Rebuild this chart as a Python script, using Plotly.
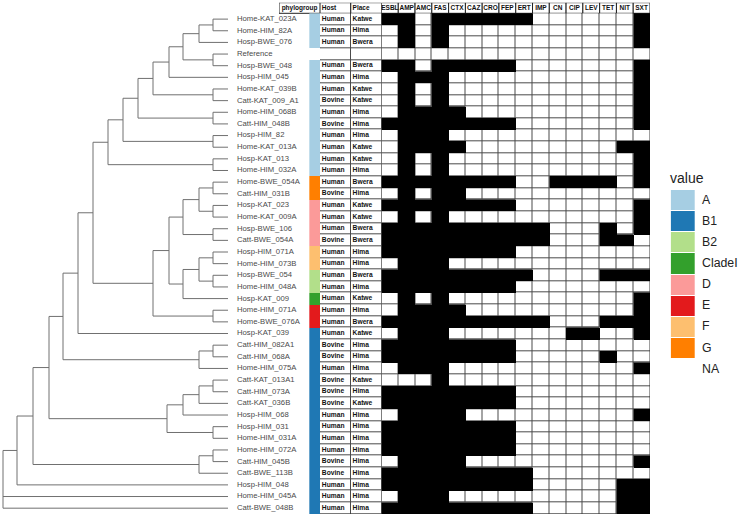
import plotly.graph_objects as go

# ---------------- data ----------------
TIP_LABELS = [
    "Home-KAT_023A", "Home-HIM_82A", "Hosp-BWE_076", "Reference", "Hosp-BWE_048",
    "Hosp-HIM_045", "Home-KAT_039B", "Catt-KAT_009_A1", "Home-HIM_068B", "Catt-HIM_048B",
    "Hosp-HIM_82", "Home-KAT_013A", "Hosp-KAT_013", "Home-HIM_032A", "Home-BWE_054A",
    "Catt-HIM_031B", "Hosp-KAT_023", "Home-KAT_009A", "Hosp-BWE_106", "Catt-BWE_054A",
    "Hosp-HIM_071A", "Home-HIM_073B", "Hosp-BWE_054", "Home-HIM_048A", "Hosp-KAT_009",
    "Home-HIM_071A", "Home-BWE_076A", "Hosp-KAT_039", "Catt-HIM_082A1", "Catt-HIM_068A",
    "Home-HIM_075A", "Catt-KAT_013A1", "Catt-HIM_073A", "Catt-KAT_036B", "Hosp-HIM_068",
    "Hosp-HIM_031", "Home-HIM_031A", "Home-HIM_072A", "Catt-HIM_045B", "Catt-BWE_113B",
    "Hosp-HIM_048", "Home-HIM_045A", "Catt-BWE_048B",
]

HOSTS = [
    "Human", "Human", "Human", "", "Human", "Human", "Human", "Bovine", "Human", "Bovine",
    "Human", "Human", "Human", "Human", "Human", "Bovine", "Human", "Human", "Human", "Bovine",
    "Human", "Human", "Human", "Human", "Human", "Human", "Human", "Human", "Bovine", "Bovine",
    "Human", "Bovine", "Bovine", "Bovine", "Human", "Human", "Human", "Human", "Bovine", "Bovine",
    "Human", "Human", "Human",
]

PLACES = [
    "Katwe", "Hima", "Bwera", "", "Bwera", "Hima", "Katwe", "Katwe", "Hima", "Hima",
    "Hima", "Katwe", "Katwe", "Hima", "Bwera", "Hima", "Katwe", "Katwe", "Bwera", "Bwera",
    "Hima", "Hima", "Bwera", "Hima", "Katwe", "Hima", "Bwera", "Katwe", "Hima", "Hima",
    "Hima", "Katwe", "Hima", "Katwe", "Hima", "Hima", "Hima", "Hima", "Hima", "Hima",
    "Hima", "Hima", "Hima",
]

PHYLOGROUPS = (
    ["A"] * 3 + [None] + ["A"] * 10 + ["G"] * 2 + ["D"] * 4 + ["F"] * 2
    + ["B2"] * 2 + ["CladeI"] + ["E"] * 2 + ["B1"] * 16
)

ANTIBIOTICS = ["ESBL", "AMP", "AMC", "FAS", "CTX", "CAZ", "CRO", "FEP",
               "ERT", "IMP", "CN", "CIP", "LEV", "TET", "NIT", "SXT"]

# 1 = resistant (black), 0 = not (white)
RESISTANCE = [
    "1101111110000001", "0101000000000001", "0101000000000001", "0000000000000000",
    "1101111100000001", "0111000000000001", "0101000000000001", "0101000000000001",
    "0111100000000001", "1111111100000001", "0111000000000000", "0111100000000011",
    "0101000000000001", "0101000000000001", "1111111100111101", "0101100000000000",
    "1111111100000001", "0101000000000001", "1111111111000101", "1111111111000110",
    "1111111100000000", "0111000000000000", "1111111110000111", "1111111100000000",
    "0101000000000001", "0111100000000001", "1111111111000111", "0111000000011001",
    "1111111100000000", "1111111100000100", "0111000000000001", "0001000000000000",
    "1111111100000000", "1111111100000000", "0111100000000001", "1111111100000000",
    "1111111100000000", "1111111100000000", "0111100000000001", "1111111110000000",
    "1111111110000011", "0111000000000011", "1111111110000011",
]

GROUP_LEVELS = ["A", "B1", "B2", "CladeI", "D", "E", "F", "G"]
GROUP_COLORS = ["#a6cee3", "#1f78b4", "#b2df8a", "#33a02c",
                "#fb9a99", "#e31a1c", "#fdbf6f", "#ff7f00"]

# tree: (node height, child, child, ...) ; tips are labels
TIP_DEPTH = 225
TREE = (0,
  (14,
    (30,
      (46,
        (60,
          (75,
            (90,
              (105,
                (120,
                  (135,
                    (150,
                      (166,
                        (180,
                          (196, (210, "Home-KAT_023A", "Home-HIM_82A"), "Hosp-BWE_076"),
                          (210, "Reference", "Hosp-BWE_048")),
                        "Hosp-HIM_045"),
                      (210, "Home-KAT_039B", "Catt-KAT_009_A1")),
                    (210, "Home-HIM_068B", "Catt-HIM_048B")),
                  (210, "Hosp-HIM_82", "Home-KAT_013A")),
                (210, "Hosp-KAT_013", "Home-HIM_032A")),
              (150,
                (166,
                  (180,
                    (196, (210, "Home-BWE_054A", "Catt-HIM_031B"),
                          (210, "Hosp-KAT_023", "Home-KAT_009A")),
                    (210, "Hosp-BWE_106", "Catt-BWE_054A")),
                  (180,
                    (196, (210, "Hosp-HIM_071A", "Home-HIM_073B"),
                          (210, "Hosp-BWE_054", "Home-HIM_048A")),
                    "Hosp-KAT_009")),
                (210, "Home-HIM_071A", "Home-BWE_076A"))),
            "Hosp-KAT_039"),
          (196, (210, "Catt-HIM_082A1", "Catt-HIM_068A"), "Home-HIM_075A")),
        (164,
          (180, (196, (210, "Catt-KAT_013A1", "Catt-HIM_073A"), "Catt-KAT_036B"), "Hosp-HIM_068"),
          (210, "Hosp-HIM_031", "Home-HIM_031A"))),
      (196, (210, "Home-HIM_072A", "Catt-HIM_045B"), "Catt-BWE_113B")),
    "Hosp-HIM_048"),
  "Home-HIM_045A", "Catt-BWE_048B")

# ---------------- layout constants (pixels) ----------------
W, H = 741, 518
N = len(TIP_LABELS)
BOLD = "Liberation Sans, Arial, sans-serif"
SANS = "Liberation Sans, Arial, sans-serif"
GRID = "#4a4a4a"
HEADER_TOP = -1.41   # header band in row units above first row
LABEL_GAP = 9
LEG_UNIT = 23.6      # legend swatch width in px
TXT_SHIFT = 0.06     # text anchor shift inside host/place cells


def dx(p):
    return p / W


Y_DOMAIN = [1 - 514 / H, 1 - 2.7 / H]
Y_RANGE = [N - 0.5, HEADER_TOP]
rows = list(range(N))

# ---------------- tree geometry ----------------
tip_y = {name: i for i, name in enumerate(TIP_LABELS)}
seg_x, seg_y = [], []


def walk(node):
    if isinstance(node, str):
        return tip_y[node], TIP_DEPTH
    h = node[0]
    ys = []
    for child in node[1:]:
        cy, ch = walk(child)
        seg_x.extend([h, ch, None])
        seg_y.extend([cy, cy, None])
        ys.append(cy)
    seg_x.extend([h, h, None])
    seg_y.extend([min(ys), max(ys), None])
    return sum(ys) / len(ys), h


walk(TREE)

fig = go.Figure()

# tree lines
fig.add_trace(go.Scatter(x=seg_x, y=seg_y, mode="lines",
                         line=dict(color="#707070", width=1),
                         hoverinfo="skip", showlegend=False, xaxis="x", yaxis="y"))
# tip labels
fig.add_trace(go.Scatter(x=[TIP_DEPTH + LABEL_GAP] * N, y=rows, mode="text",
                         text=TIP_LABELS, textposition="middle right",
                         textfont=dict(family=SANS, size=7.7, color="#4a4a4a"),
                         cliponaxis=False, hoverinfo="skip", showlegend=False,
                         xaxis="x", yaxis="y"))

# phylogroup strip
code = {g: i for i, g in enumerate(GROUP_LEVELS)}
nlev = len(GROUP_LEVELS)
cscale = []
for i, c in enumerate(GROUP_COLORS):
    cscale.append([i / nlev, c])
    cscale.append([(i + 1) / nlev, c])
strip_z = [[code[g]] if g is not None else [None] for g in PHYLOGROUPS]
fig.add_trace(go.Heatmap(z=strip_z, x=[0.74, 1.0], y=rows,
                         colorscale=cscale, zmin=-0.5, zmax=nlev - 0.5,
                         showscale=False, hoverinfo="skip", xaxis="x2", yaxis="y"))

# Host / Place table
fig.add_trace(go.Heatmap(z=[[0, 0] for _ in rows], x=[0.5, 1.5], y=rows,
                         colorscale=[[0, "white"], [1, "white"]], showscale=False,
                         xgap=1, ygap=1, hoverinfo="skip", xaxis="x3", yaxis="y"))
for col, vals in enumerate([HOSTS, PLACES]):
    fig.add_trace(go.Scatter(x=[col + TXT_SHIFT] * N, y=rows, mode="text",
                             text=vals, textposition="middle right",
                             textfont=dict(family=BOLD, size=6.7, color="#111",
                                           weight="bold"),
                             cliponaxis=False, hoverinfo="skip", showlegend=False,
                             xaxis="x3", yaxis="y"))

# resistance matrix: white cells with gaps, black cells solid (merge together)
res = [[int(ch) for ch in row] for row in RESISTANCE]
white_z = [[0 if v == 0 else None for v in row] for row in res]
black_z = [[1 if v == 1 else None for v in row] for row in res]
abx = list(range(len(ANTIBIOTICS)))
fig.add_trace(go.Heatmap(z=white_z, x=abx, y=rows,
                         colorscale=[[0, "white"], [1, "white"]], zmin=0, zmax=1,
                         showscale=False, xgap=1, ygap=1, hoverinfo="skip",
                         xaxis="x4", yaxis="y"))
fig.add_trace(go.Heatmap(z=black_z, x=abx, y=rows,
                         colorscale=[[0, "black"], [1, "black"]], zmin=0, zmax=1,
                         showscale=False, hoverinfo="skip", xaxis="x4", yaxis="y"))

# header labels
hdr_y = (HEADER_TOP + (-0.5)) / 2
hdr_font = dict(family=BOLD, size=6.5, color="#111", weight="bold")
fig.add_trace(go.Scatter(x=[0.5], y=[hdr_y], mode="text", text=["phylogroup"],
                         textfont=hdr_font, cliponaxis=False, hoverinfo="skip",
                         showlegend=False, xaxis="x2", yaxis="y"))
fig.add_trace(go.Scatter(x=[TXT_SHIFT, 1 + TXT_SHIFT], y=[hdr_y, hdr_y], mode="text",
                         text=["Host", "Place"], textposition="middle right",
                         textfont=hdr_font, cliponaxis=False, hoverinfo="skip",
                         showlegend=False, xaxis="x3", yaxis="y"))
fig.add_trace(go.Scatter(x=abx, y=[hdr_y] * len(ANTIBIOTICS),
                         mode="text", text=ANTIBIOTICS, textfont=hdr_font,
                         cliponaxis=False, hoverinfo="skip", showlegend=False,
                         xaxis="x4", yaxis="y"))

# legend swatches
fig.add_trace(go.Heatmap(z=[[i] for i in range(nlev)], x=[-0.5, 0.5], y=list(range(nlev)),
                         colorscale=cscale, zmin=-0.5, zmax=nlev - 0.5, ygap=1,
                         showscale=False, hoverinfo="skip", xaxis="x5", yaxis="y2"))
fig.add_trace(go.Scatter(x=[0.83] * (nlev + 1), y=list(range(nlev + 1)), mode="text",
                         text=GROUP_LEVELS + ["NA"], textposition="middle right",
                         textfont=dict(family=SANS, size=12.3, color="#222"),
                         cliponaxis=False, hoverinfo="skip", showlegend=False,
                         xaxis="x5", yaxis="y2"))

# ---------------- shapes (grid backgrounds & header boxes) ----------------
shapes = []
shapes.append(dict(type="rect", xref="x3", yref="y", x0=0, x1=2, y0=-0.5, y1=N - 0.5,
                   fillcolor=GRID, line=dict(color="#333", width=1), layer="below"))
shapes.append(dict(type="rect", xref="x4", yref="y", x0=-0.5, x1=len(ANTIBIOTICS) - 0.5,
                   y0=-0.5, y1=N - 0.5, fillcolor=GRID, line=dict(color="#333", width=1),
                   layer="below"))
hbox = dict(type="rect", yref="y", y0=HEADER_TOP, y1=-0.5, fillcolor="white",
            line=dict(color="#222", width=1), layer="below")
shapes.append(dict(hbox, xref="x2", x0=0, x1=1))
for c in range(2):
    shapes.append(dict(hbox, xref="x3", x0=c, x1=c + 1))
for c in abx:
    shapes.append(dict(hbox, xref="x4", x0=c - 0.5, x1=c + 0.5))

hidden = dict(visible=False, fixedrange=True)
leg_right = -0.5 + (W - 670.7) / LEG_UNIT
fig.update_layout(
    width=W, height=H, margin=dict(l=0, r=0, t=0, b=0),
    paper_bgcolor="white", plot_bgcolor="rgba(0,0,0,0)", showlegend=False,
    xaxis=dict(hidden, domain=[0, dx(303)], range=[-3, 300], anchor="y"),
    xaxis2=dict(hidden, domain=[dx(279), dx(320)], range=[0, 1], anchor="y"),
    xaxis3=dict(hidden, domain=[dx(320), dx(381.5)], range=[0, 2], anchor="y"),
    xaxis4=dict(hidden, domain=[dx(381.5), dx(650)], range=[-0.5, len(ANTIBIOTICS) - 0.5],
                anchor="y"),
    xaxis5=dict(hidden, domain=[dx(670.7), 1], range=[-0.5, leg_right], anchor="y2"),
    yaxis=dict(hidden, domain=Y_DOMAIN, range=Y_RANGE, anchor="x"),
    yaxis2=dict(hidden, domain=[1 - 380.2 / H, 1 - 190 / H], range=[nlev + 0.5, -0.5],
                anchor="x5"),
    shapes=shapes,
    annotations=[dict(text="value", x=dx(668), y=1 - 178 / H, xref="paper", yref="paper",
                      xanchor="left", yanchor="middle", showarrow=False,
                      font=dict(family=SANS, size=14, color="#222"))],
)

fig.write_html("out.html", config={"displayModeBar": False},
               post_script="document.body.style.margin='0px';")
